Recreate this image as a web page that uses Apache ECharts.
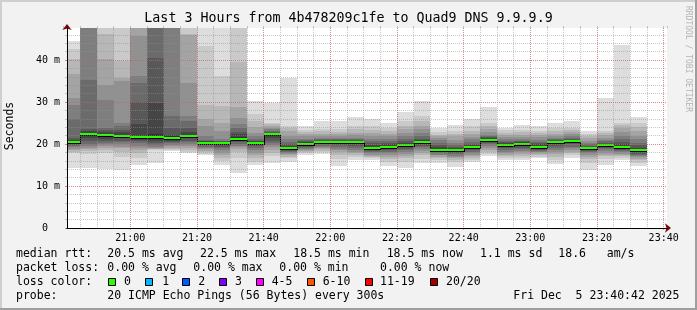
<!DOCTYPE html>
<html><head><meta charset="utf-8">
<script src="https://cdn.jsdelivr.net/npm/echarts@6/dist/echarts.min.js"></script>
<style>html,body{margin:0;padding:0;background:#f2f2f2}#c{width:697px;height:310px}</style>
</head><body><div id="c"></div>
<script>
// ---------------- data ----------------
const titleText = 'Last 3 Hours from 4b478209c1fe to Quad9 DNS 9.9.9.9';
const axisStart = '20:41';
const axisEnd = '23:41';
const gridOrigin = '20:40';   // first 20-minute boundary used to anchor the time grid
const yMaxMs = 47.62;
// bin edges (5-minute steps), bin k spans binEdges[k] .. binEdges[k+1]
const binEdges = ['20:40','20:45','20:50','20:55','21:00','21:05','21:10','21:15','21:20','21:25','21:30','21:35',
  '21:40','21:45','21:50','21:55','22:00','22:05','22:10','22:15','22:20','22:25','22:30','22:35','22:40','22:45',
  '22:50','22:55','23:00','23:05','23:10','23:15','23:20','23:25','23:30','23:35'];
// median rtt per bin (ms)
const medianRtt = [20.4,22.45,22.2,22.0,21.7,21.7,21.5,22.0,20.3,20.3,21.3,20.3,22.3,19.1,20.1,20.55,20.55,20.55,
  19.1,19.4,19.8,20.55,18.65,18.65,19.4,21.0,19.8,20.1,19.4,20.55,20.8,19.1,19.7,19.4,18.5];
// 20 sorted ping rtts per bin (ms)
const smokePings = [
  [14.4,17.9,18.2,18.6,18.9,19.2,19.5,19.8,20.0,20.2,20.6,21.0,21.5,25.9,29.4,31.0,36.7,40.2,42.6,44.5],
  [14.4,17.6,18.4,18.7,19.1,19.5,19.9,20.6,21.5,22.2,22.7,23.0,23.5,35.3,49,50,51,53,56,60],
  [14.0,17.9,18.5,19.0,19.5,19.9,20.3,20.7,21.3,21.9,22.4,22.9,23.3,23.9,30.5,34.0,40.2,46.3,49,52],
  [13.8,17.0,18.2,19.0,19.4,19.9,20.4,20.8,21.4,21.8,22.2,22.8,23.3,24.3,25.1,35.0,35.6,39.8,49,52],
  [15.0,16.7,17.9,18.5,19.1,19.6,20.2,20.7,21.0,21.4,22.0,24.8,30.1,34.6,36.2,45.8,49,51,54,58],
  [15.5,18.6,18.7,18.8,19.0,19.2,19.8,20.3,20.8,21.2,22.4,29.8,40.5,49,50,52,54,56,58,62],
  [18.3,18.5,18.8,19.1,19.5,19.8,20.2,20.5,20.8,21.3,21.8,22.2,23.9,26.7,49,51,53,55,58,62],
  [17.9,18.2,18.6,19.0,19.5,20.0,20.4,20.8,21.4,21.8,22.2,22.8,23.9,25.5,26.7,34.6,46.0,46.1,49,52],
  [17.4,17.7,18.0,18.4,18.7,19.0,19.3,19.7,20.0,20.2,20.45,20.6,20.7,20.9,21.9,24.3,25.9,29.4,43.3,50],
  [15.1,16.0,16.7,17.5,17.9,18.5,19.1,19.3,20.0,20.2,20.4,20.5,20.6,20.8,21.1,23.1,25.1,29.0,36.2,50],
  [13.2,16.7,18.1,18.9,19.3,19.6,20.0,20.4,20.7,21.0,21.6,22.3,22.8,23.9,24.7,26.3,28.7,39.6,49,52],
  [15.0,15.8,16.6,17.4,17.9,18.5,19.0,19.5,19.9,20.2,20.45,20.6,20.8,21.2,21.9,22.7,24.0,25.5,27.1,30.2],
  [15.5,17.2,17.8,18.5,19.3,19.8,20.3,20.8,21.5,22.2,22.4,22.6,22.8,23.1,23.5,23.9,24.3,24.7,25.1,29.8],
  [15.7,16.7,16.9,17.3,17.6,17.9,18.1,18.3,18.6,18.9,19.3,19.6,19.9,20.5,21.1,22.0,23.1,23.7,24.3,35.7],
  [17.5,17.8,18.0,18.3,18.6,18.8,19.1,19.4,19.7,20.0,20.2,20.4,20.6,20.9,21.3,21.8,22.3,22.8,23.3,24.4],
  [17.7,18.1,18.4,18.7,19.0,19.3,19.6,19.9,20.2,20.5,20.6,20.7,20.9,21.1,21.5,21.9,22.4,23.0,23.5,25.4],
  [14.8,16.5,17.3,18.0,18.5,18.9,19.3,19.8,20.2,20.5,20.6,20.7,20.9,21.1,21.5,21.9,22.4,22.9,23.5,25.5],
  [16.3,17.0,17.4,17.8,18.2,18.6,19.1,19.6,20.1,20.5,20.6,20.7,20.9,21.1,21.5,22.1,22.7,23.5,24.3,26.5],
  [16.2,16.6,16.9,17.2,17.5,17.8,18.0,18.3,18.6,18.9,19.3,19.7,20.2,20.7,21.3,21.9,22.6,23.4,24.3,25.9],
  [14.8,15.7,16.4,16.9,17.3,17.8,18.2,18.6,19.0,19.3,19.6,19.9,20.3,20.8,21.2,21.9,22.4,23.0,23.8,25.1],
  [14.4,15.8,16.6,17.2,17.6,18.0,18.5,18.9,19.2,19.6,20.0,20.3,20.6,21.1,21.9,22.7,23.5,24.3,25.5,27.6],
  [15.5,16.5,17.3,17.9,18.3,18.8,19.2,19.6,20.0,20.4,20.7,20.9,21.2,21.9,22.7,23.5,24.3,25.5,26.7,30.2],
  [15.5,16.2,16.6,17.0,17.3,17.5,17.8,18.0,18.2,18.5,18.9,19.2,19.7,20.3,20.9,21.5,21.8,22.2,22.8,23.9],
  [14.6,15.6,16.2,16.6,16.9,17.2,17.6,17.9,18.2,18.5,18.8,19.0,19.4,19.8,20.3,21.0,21.9,22.5,23.2,24.5],
  [15.7,16.2,16.7,17.1,17.5,17.9,18.2,18.6,18.9,19.2,19.5,19.7,19.9,20.5,21.1,21.6,22.3,23.2,24.3,25.9],
  [17.1,17.6,18.2,18.6,19.1,19.5,19.9,20.3,20.6,20.9,21.2,21.4,21.6,21.9,22.2,22.8,23.5,24.3,25.1,28.8],
  [16.3,16.7,17.1,17.5,17.9,18.2,18.6,19.0,19.3,19.6,20.0,20.2,20.4,20.7,21.1,21.6,22.2,22.7,23.3,23.9],
  [16.1,16.6,17.2,17.6,18.0,18.3,18.7,19.1,19.5,19.9,20.3,20.4,20.6,20.8,21.1,21.6,22.2,22.8,23.4,24.5],
  [16.7,17.0,17.4,17.7,18.0,18.2,18.4,18.6,18.9,19.2,19.6,19.9,20.2,20.5,21.0,21.6,22.1,22.7,23.2,24.3],
  [15.3,16.2,17.0,17.6,18.2,18.6,19.1,19.6,20.0,20.4,20.6,20.7,20.9,21.1,21.5,21.9,22.5,23.1,23.9,25.1],
  [16.7,17.3,17.8,18.2,18.6,19.0,19.4,19.9,20.3,20.7,20.9,21.0,21.1,21.4,21.9,22.3,22.8,23.3,23.9,25.5],
  [13.9,15.5,16.4,17.0,17.4,17.8,18.1,18.4,18.7,19.0,19.2,19.4,19.6,19.9,20.3,20.8,21.4,21.9,22.5,23.1],
  [15.1,16.4,17.1,17.5,17.9,18.3,18.7,19.0,19.3,19.6,19.9,20.1,20.3,20.6,21.0,21.5,22.1,22.6,23.1,31.0],
  [16.3,16.7,17.1,17.4,17.7,18.0,18.3,18.6,18.9,19.2,19.6,20.0,20.4,21.1,22.0,22.8,23.9,24.5,25.1,43.6],
  [14.8,15.5,16.1,16.5,16.8,17.1,17.4,17.7,18.0,18.3,18.7,19.0,19.7,20.3,21.1,21.9,23.0,24.1,25.1,26.5]
];
const medianStats = ['20.5 ms avg','22.5 ms max','18.5 ms min','18.5 ms now','1.1 ms sd','18.6   am/s'];
const lossStats = ['0.00 % avg','0.00 % max','0.00 % min','0.00 % now'];
const lossLabels = ['0','1','2','3','4-5','6-10','11-19','20/20'];
const lossColors = ['#26ff00','#00b8ff','#0059ff','#7e00ff','#ff00ff','#ff5500','#ff0000','#a10000'];
const probeText = '20 ICMP Echo Pings (56 Bytes) every 300s';
const stampText = 'Fri Dec  5 23:40:42 2025';

// ---------------- styling / layout ----------------
const MONO = '"DejaVu Sans Mono", monospace';
const smokeColors = ['#dddddd','#cacaca','#b7b7b7','#a4a4a4','#919191','#7e7e7e','#6b6b6b','#585858','#454545','#323232'];
const toMin = s => { const p = s.split(':'); return (+p[0]) * 60 + (+p[1]); };
const pad = n => (n < 10 ? '0' : '') + n;
const fmtMin = v => pad(Math.floor(v / 60)) + ':' + pad(Math.round(v % 60));

const smokeData = smokePings.map((p, k) => [toMin(binEdges[k]), toMin(binEdges[k + 1])].concat(p));
const medianData = medianRtt.map((m, k) => [toMin(binEdges[k]), toMin(binEdges[k + 1]), m,
  k + 1 < medianRtt.length ? medianRtt[k + 1] : NaN]);

// plot geometry: 600 px for axisStart..axisEnd
const PLOT_L = 67, PLOT_T = 28, PLOT_W = 600, PLOT_H = 200;
const xMin = toMin(axisStart), xMax = toMin(axisEnd), xOrig = toMin(gridOrigin);
const pxPerMin = PLOT_W / (xMax - xMin);
const GRID2_L = PLOT_L - (xMin - xOrig) * pxPerMin;
const GRID2_W = (xMax - xOrig) * pxPerMin;

function bounds(params) {
  const cs = params.coordSys;
  return { l: cs.x, r: cs.x + cs.width, t: cs.y, b: cs.y + cs.height };
}
function renderSmoke(params, api) {
  const B = bounds(params);
  const x0 = Math.round(Math.max(api.coord([api.value(0), 0])[0], B.l));
  const x1 = Math.round(Math.min(api.coord([api.value(1), 0])[0], B.r));
  const children = [];
  for (let b = 0; b < 10; b++) {
    const lo = api.value(2 + b), hi = api.value(21 - b);
    let yl = api.coord([api.value(0), lo])[1], yh = api.coord([api.value(0), hi])[1];
    yl = Math.round(Math.min(Math.max(yl, B.t), B.b));
    yh = Math.round(Math.min(Math.max(yh, B.t), B.b));
    if (yl - yh <= 0) continue;
    children.push({ type: 'rect', shape: { x: x0, y: yh, width: x1 - x0, height: yl - yh }, style: { fill: smokeColors[b] } });
  }
  return { type: 'group', children };
}
function renderMedian(params, api) {
  const B = bounds(params);
  const x0 = Math.round(Math.max(api.coord([api.value(0), 0])[0], B.l));
  const x1 = Math.round(Math.min(api.coord([api.value(1), 0])[0], B.r));
  const gy = Math.round(api.coord([api.value(0), api.value(2)])[1] - 1);
  const children = [
    { type: 'rect', shape: { x: x0, y: gy, width: x1 - x0, height: 2 }, style: { fill: '#26ff00' } },
    { type: 'rect', shape: { x: x0, y: gy + 2, width: x1 - x0, height: 1 }, style: { fill: '#000' } }
  ];
  const nv = api.value(3);
  if (isFinite(nv)) {
    const ny = Math.round(api.coord([api.value(0), nv])[1] - 1) + 2;
    const a = Math.min(ny, gy + 2), h = Math.abs(ny - (gy + 2)) + 1;
    children.push({ type: 'rect', shape: { x: x1, y: a, width: 1, height: h }, style: { fill: '#000' } });
  }
  return { type: 'group', children };
}

const minorCol = 'rgba(143,143,143,0.5)';
const majorCol = 'rgba(222,80,80,0.5)';

const graphics = [];
graphics.push({ type: 'rect', shape: { x: 0, y: 0, width: 697, height: 2 }, style: { fill: '#cfcfcf' }, silent: true });
graphics.push({ type: 'rect', shape: { x: 0, y: 0, width: 2, height: 310 }, style: { fill: '#cfcfcf' }, silent: true });
graphics.push({ type: 'rect', shape: { x: 0, y: 308, width: 697, height: 2 }, style: { fill: '#9e9e9e' }, silent: true });
graphics.push({ type: 'rect', shape: { x: 695, y: 0, width: 2, height: 310 }, style: { fill: '#9e9e9e' }, silent: true });
function txt(t, x, y, extra) {
  graphics.push({ type: 'text', x: x, y: y, silent: true,
    style: Object.assign({ text: t, font: '11.5px ' + MONO, fill: '#000', align: 'left', verticalAlign: 'middle' }, extra || {}) });
}
graphics.push({ type: 'text', x: 10.5, y: 126, rotation: Math.PI / 2, silent: true,
  style: { text: 'Seconds', font: '11.5px ' + MONO, fill: '#000', align: 'center', verticalAlign: 'middle' } });
graphics.push({ type: 'text', x: 688, y: 59, rotation: -Math.PI / 2, silent: true,
  style: { text: 'RRDTOOL / TOBI OETIKER', font: '8px ' + MONO, fill: '#b4b4b4', align: 'center', verticalAlign: 'middle' } });
const L1 = 254.3, L2 = 268.3, L3 = 282.3, L4 = 296;
txt('median rtt:', 16, L1);
[107.3, 200, 293.3, 386.7, 480, 558.3].forEach((x, i) => txt(medianStats[i], x, L1));
txt('packet loss:', 16, L2);
[107.3, 193.3, 279.3, 380].forEach((x, i) => txt(lossStats[i], x, L2));
txt('loss color:', 16, L3);
const sqX = [108.5, 145.5, 182.5, 219.5, 256.5, 307.5, 365.5, 430.5];
const lbX = [124, 162.3, 198.3, 235, 271.7, 322.7, 380, 446];
lossLabels.forEach((lab, i) => {
  graphics.push({ type: 'rect', silent: true, shape: { x: sqX[i], y: L3 - 3.8, width: 7, height: 7 },
    style: { fill: lossColors[i], stroke: '#000', lineWidth: 1 } });
  txt(lab, lbX[i], L3);
});
txt('probe:', 16, L4);
txt(probeText, 107.3, L4);
txt(stampText, 513.3, L4);

const hidden = { show: false };
const chart = echarts.init(document.getElementById('c'), null, { renderer: 'canvas' });
chart.setOption({
  animation: false,
  backgroundColor: '#f2f2f2',
  title: { text: titleText, left: 'center', top: 12, padding: 0,
    textStyle: { fontFamily: MONO, fontSize: 13.3, fontWeight: 'normal', color: '#000' } },
  grid: [
    { left: PLOT_L, top: PLOT_T, width: PLOT_W, height: PLOT_H, show: true, backgroundColor: '#ffffff', borderWidth: 0 },
    { left: GRID2_L, top: PLOT_T, width: GRID2_W, height: PLOT_H, show: false }
  ],
  xAxis: [
    // data axis (grid 0)
    { type: 'value', gridIndex: 0, min: xMin, max: xMax, z: 7,
      axisLine: { show: true, lineStyle: { color: '#000', width: 1 } },
      axisTick: hidden, axisLabel: hidden, splitLine: hidden },
    // arrow (grid 0)
    { type: 'value', gridIndex: 0, min: xMin, max: xMax, z: 4,
      axisLine: { show: true, symbol: ['none', 'arrow'], symbolSize: [7, 6], symbolOffset: [0, 4],
        lineStyle: { color: '#7f0000', width: 1 } },
      axisTick: hidden, axisLabel: hidden, splitLine: hidden },
    // major time grid, labels (grid 1, anchored on 20-min boundary)
    { type: 'value', gridIndex: 1, min: xOrig, max: xMax, interval: 20, z: 6,
      axisLine: hidden,
      axisTick: { show: true, length: 2, lineStyle: { color: majorCol } },
      axisLabel: { show: true, formatter: fmtMin, fontFamily: MONO, fontSize: 10, color: '#000', margin: 5,
        showMinLabel: false, showMaxLabel: false, hideOverlap: false },
      splitLine: { show: true, showMinLine: false, showMaxLine: false, lineStyle: { color: majorCol, type: [1, 1], width: 1 } } },
    // minor time grid (grid 1)
    { type: 'value', gridIndex: 1, min: xOrig, max: xMax, interval: 5, z: 5,
      axisLine: hidden,
      axisTick: { show: true, length: 2, lineStyle: { color: minorCol } },
      axisLabel: hidden,
      splitLine: { show: true, showMinLine: false, showMaxLine: false, lineStyle: { color: minorCol, type: [1, 1], width: 1 } } }
  ],
  yAxis: [
    { type: 'value', gridIndex: 0, min: 0, max: yMaxMs, interval: 10, z: 6,
      axisLine: { show: true, lineStyle: { color: '#000', width: 1 } },
      axisTick: { show: true, length: 2, lineStyle: { color: majorCol } },
      axisLabel: { show: true, formatter: v => v === 0 ? '0  ' : v + ' m', fontFamily: MONO, fontSize: 10, color: '#000',
        margin: 7, showMaxLabel: false },
      splitLine: { show: true, showMinLine: false, showMaxLine: false, lineStyle: { color: majorCol, type: [1, 1], width: 1 } } },
    { type: 'value', gridIndex: 0, min: 0, max: yMaxMs, interval: 2, z: 5, position: 'left',
      axisLine: { show: true, symbol: ['none', 'arrow'], symbolSize: [7, 6], symbolOffset: [0, 4],
        lineStyle: { color: '#7f0000', width: 1 } },
      axisTick: { show: true, length: 2, lineStyle: { color: minorCol } },
      axisLabel: hidden,
      splitLine: { show: true, showMinLine: false, showMaxLine: false, lineStyle: { color: minorCol, type: [1, 1], width: 1 } } },
    { type: 'value', gridIndex: 1, min: 0, max: yMaxMs, show: false }
  ],
  series: [
    { type: 'custom', name: 'smoke', coordinateSystem: 'cartesian2d', xAxisIndex: 0, yAxisIndex: 0, z: 1, silent: true,
      renderItem: renderSmoke, data: smokeData,
      encode: { x: [0, 1], y: [2,3,4,5,6,7,8,9,10,11,12,13,14,15,16,17,18,19,20,21] } },
    { type: 'custom', name: 'median rtt', coordinateSystem: 'cartesian2d', xAxisIndex: 0, yAxisIndex: 0, z: 2, silent: true,
      renderItem: renderMedian, data: medianData, encode: { x: [0, 1], y: 2 } }
  ],
  graphic: graphics
});
</script></body></html>
